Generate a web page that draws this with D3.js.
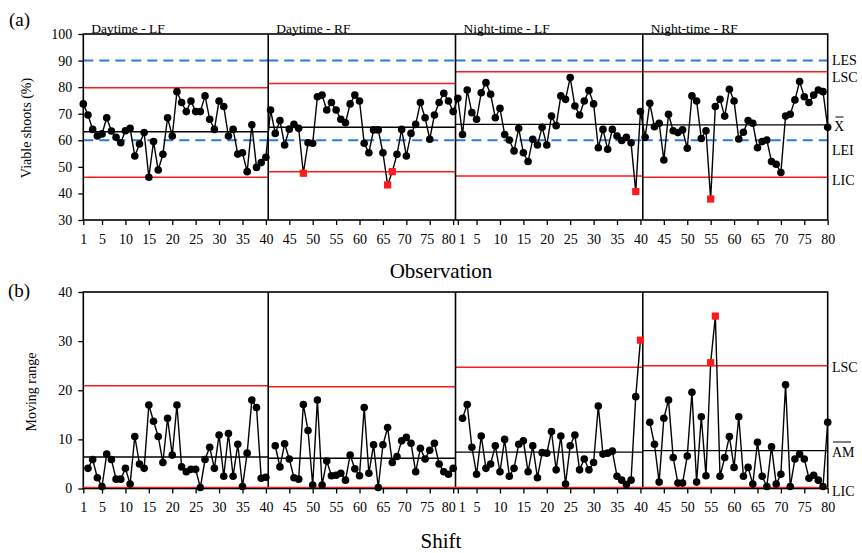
<!DOCTYPE html>
<html>
<head>
<meta charset="utf-8">
<script src="https://cdnjs.cloudflare.com/ajax/libs/d3/7.8.5/d3.min.js"></script>
<style>
  html, body { margin: 0; padding: 0; background: #fff; }
  svg { display: block; font-family: "Liberation Serif", "Times New Roman", serif; }
</style>
</head>
<body>
<svg id="chart" width="862" height="553"></svg>
<script>
// ---------------- DATA ----------------
const segmentNames = ["Daytime - LF", "Daytime - RF", "Night-time - LF", "Night-time - RF"];
const segmentStart = [1, 41, 81, 121];
const segmentEnd   = [40, 80, 120, 160];

// Viable shoots (%) per observation, each segment 40 observations
const viableDayLF = [73.7,69.5,64.1,61.6,62.4,68.5,63.5,61.1,59.1,63.6,64.5,54.1,58.6,62.9,46.1,59.5,48.8,54.7,68.5,61.6,78.3,74.2,70.8,74.8,70.8,70.8,76.7,67.9,64.1,74.8,72.7,61.6,64.1,54.8,55.3,48.2,65.8,49.8,51.6,53.6];
const viableDayRF = [71.4,62.6,67.4,58.2,64.2,66.0,64.5,47.6,59.1,58.9,76.4,77.0,71.4,74.2,71.4,67.9,66.6,73.7,77.0,74.8,58.9,55.3,63.9,63.9,55.3,43.2,48.2,54.7,64.1,54.1,62.6,66.0,74.2,68.5,60.4,69.5,74.2,77.7,74.8,70.8];
const viableNightLF = [75.8,62.2,78.9,70.4,67.9,77.9,81.7,77.3,68.5,72.0,62.2,60.1,56.0,64.5,55.3,52.0,60.4,58.2,64.9,58.2,69.1,65.5,76.7,75.4,83.6,72.9,69.5,74.8,78.7,73.7,57.2,64.1,56.6,64.1,61.6,59.9,61.1,59.1,40.7,70.8];
const viableNightRF = [61.1,73.9,65.1,66.4,52.6,69.8,63.6,62.9,63.9,57.0,76.7,74.8,60.7,63.6,37.9,72.7,75.4,69.1,79.2,74.8,60.5,63.0,67.4,66.4,57.2,59.5,60.1,52.0,51.0,47.9,69.1,69.8,75.2,82.1,76.4,74.2,77.0,78.9,78.3,64.9];

// Moving range per segment (starts at the 2nd observation of each segment)
const mrDayLF = [4.1,5.9,2.2,0.4,7.0,5.9,1.9,1.9,4.1,0.9,10.6,5.0,4.1,17.0,13.7,10.6,5.3,14.3,6.8,17.0,4.4,3.4,3.9,3.9,0.2,5.9,8.4,4.1,10.9,2.5,11.2,2.5,9.0,0.4,7.2,18.0,16.5,2.1,2.3];
const mrDayRF = [8.7,4.4,9.1,6.0,2.2,1.9,17.1,11.8,0.7,18.0,0.7,5.6,2.6,2.7,3.1,1.7,6.8,4.0,2.6,16.5,3.1,8.9,0.2,8.9,12.4,5.3,6.5,9.7,10.4,9.2,3.4,8.2,6.0,7.8,9.2,5.0,3.4,2.9,4.1];
const mrNightLF = [14.3,17.1,8.4,2.9,10.7,4.1,5.0,8.7,3.4,10.0,2.5,4.1,9.0,9.7,3.4,8.7,2.2,7.3,7.2,11.6,3.8,10.7,0.9,8.7,10.9,3.8,6.0,3.8,5.3,16.8,7.0,7.2,7.6,2.5,1.7,0.8,1.7,18.7,30.2];
const mrNightRF = [13.5,9.0,1.3,14.3,18.0,6.3,1.1,1.1,6.6,19.6,1.3,14.6,2.6,25.6,35.1,2.5,6.3,10.6,4.3,14.6,2.5,4.3,0.9,9.4,2.5,0.4,8.5,0.9,2.9,21.1,0.4,6.0,7.0,6.0,2.1,2.7,1.7,0.4,13.5];

// Out-of-control points (global observation index)
const outViable = [48, 66, 67, 119, 135];
const outMR = [120, 135, 136];

// Control limits
const viableLSC = [79.8, 81.4, 85.8, 85.8];
const viableMean = [63.2, 64.9, 66.0, 65.8];
const viableLIC = [46.1, 48.2, 46.6, 46.1];
const specLES = 90;
const specLEI = 60;

const mrLSC = [20.9, 20.7, 24.7, 25.0];
const mrMean = [6.4, 6.15, 7.4, 7.7];
const mrLIC = 0;

// Axis ticks
const xTickIndex = [1,5,10,15,20,25,30,35,40,45,50,55,60,65,70,75,80,81,85,90,95,100,105,110,115,120,125,130,135,140,145,150,155,160];
const xTickLabel = ["1","5","10","15","20","25","30","35","40","45","50","55","60","65","70","75","80","1","5","10","15","20","25","30","35","40","45","50","55","60","65","70","75","80"];
const viableTicks = [30,40,50,60,70,80,90,100];
const mrTicks = [0,10,20,30,40];

// ---------------- BUILD ----------------
const viableAll = [].concat(viableDayLF, viableDayRF, viableNightLF, viableNightRF)
  .map((v, k) => ({ i: k + 1, v }));
const mrSegs = [mrDayLF, mrDayRF, mrNightLF, mrNightRF].map((arr, s) =>
  arr.map((v, k) => ({ i: segmentStart[s] + 1 + k, v })));

const svg = d3.select("#chart");
const red = "#ff1a1a", blue = "#2a7bd6";

const x = d3.scaleLinear().domain([1, 160]).range([83.3, 827.7]);
const yA = d3.scaleLinear().domain([30, 100]).range([220, 34]);
const yB = d3.scaleLinear().domain([0, 40]).range([488.5, 292]);

// small label nudges where neighbouring tick labels crowd (reference layout)
const labelNudge = { 70: -2, 75: -3, 80: -5, 81: 4 };

function drawPanel(y, ticks) {
  const g = svg.append("g");
  const [y0, y1] = y.range();
  const la = g.append("g").attr("transform", `translate(${x(1)},0)`)
    .call(d3.axisLeft(y).tickValues(ticks).tickSize(5).tickSizeOuter(0).tickPadding(6));
  la.select(".domain").remove();
  la.selectAll("line").attr("stroke", "#000").attr("stroke-width", 1.3);
  la.selectAll("text").attr("font-size", 14).attr("font-family", "Liberation Serif").attr("fill", "#000");
  const ba = g.append("g").attr("transform", `translate(0,${y0})`)
    .call(d3.axisBottom(x).tickValues(xTickIndex).tickFormat((d, k) => xTickLabel[k]).tickSize(5).tickSizeOuter(0).tickPadding(9));
  ba.select(".domain").remove();
  ba.selectAll("line").attr("stroke", "#000").attr("stroke-width", 1.3);
  ba.selectAll("text").attr("font-size", 14).attr("font-family", "Liberation Serif").attr("fill", "#000")
    .attr("dx", d => labelNudge[d] || 0);
  return g;
}

function frame(y) {
  const [y0, y1] = y.range();
  svg.append("rect").attr("x", x(1)).attr("y", y1).attr("width", x(160) - x(1)).attr("height", y0 - y1)
    .attr("fill", "none").attr("stroke", "#000").attr("stroke-width", 1.6);
  [1, 2, 3].forEach(s => {
    const xv = x(segmentStart[s] - 0.5);
    svg.append("line").attr("x1", xv).attr("x2", xv).attr("y1", y1).attr("y2", y0)
      .attr("stroke", "#000").attr("stroke-width", 1.6);
  });
}

function segX0(s) { return s === 0 ? x(1) : x(segmentStart[s] - 0.5); }
function segX1(s) { return s === 3 ? x(160) : x(segmentEnd[s] + 0.5); }

function hline(y, val, s, color, w, dash) {
  const l = svg.append("line").attr("x1", segX0(s)).attr("x2", segX1(s))
    .attr("y1", y(val)).attr("y2", y(val)).attr("stroke", color).attr("stroke-width", w);
  if (dash) l.attr("stroke-dasharray", dash);
}

// ----- Panel (a) -----
drawPanel(yA, viableTicks);
for (let s = 0; s < 4; s++) {
  hline(yA, specLES, s, blue, 2, "10,6");
  hline(yA, specLEI, s, blue, 2, "10,6");
  hline(yA, viableLSC[s], s, red, 1.5);
  hline(yA, viableLIC[s], s, red, 1.5);
  hline(yA, viableMean[s], s, "#000", 1.4);
}
frame(yA);

svg.append("path").datum(viableAll)
  .attr("d", d3.line().x(d => x(d.i)).y(d => yA(d.v)))
  .attr("fill", "none").attr("stroke", "#000").attr("stroke-width", 1.4);
svg.append("g").selectAll("circle").data(viableAll.filter(d => !outViable.includes(d.i))).join("circle")
  .attr("cx", d => x(d.i)).attr("cy", d => yA(d.v)).attr("r", 3.8).attr("fill", "#000");
svg.append("g").selectAll("rect").data(viableAll.filter(d => outViable.includes(d.i))).join("rect")
  .attr("x", d => x(d.i) - 3.6).attr("y", d => yA(d.v) - 3.6).attr("width", 7.2).attr("height", 7.2).attr("fill", red);

// ----- Panel (b) -----
drawPanel(yB, mrTicks);
for (let s = 0; s < 4; s++) {
  hline(yB, mrLSC[s], s, red, 1.5);
  hline(yB, mrMean[s], s, "#000", 1.4);
}
frame(yB);
svg.append("line").attr("x1", x(1)).attr("x2", x(160)).attr("y1", yB(mrLIC) - 1.2).attr("y2", yB(mrLIC) - 1.2)
  .attr("stroke", red).attr("stroke-width", 1.2);

mrSegs.forEach(seg => {
  svg.append("path").datum(seg)
    .attr("d", d3.line().x(d => x(d.i)).y(d => yB(d.v)))
    .attr("fill", "none").attr("stroke", "#000").attr("stroke-width", 1.4);
});
const mrAll = [].concat(...mrSegs);
svg.append("g").selectAll("circle").data(mrAll.filter(d => !outMR.includes(d.i))).join("circle")
  .attr("cx", d => x(d.i)).attr("cy", d => yB(d.v)).attr("r", 3.8).attr("fill", "#000");
svg.append("g").selectAll("rect").data(mrAll.filter(d => outMR.includes(d.i))).join("rect")
  .attr("x", d => x(d.i) - 3.6).attr("y", d => yB(d.v) - 3.6).attr("width", 7.2).attr("height", 7.2).attr("fill", red);

// ----- Texts -----
function txt(str, xx, yy, size, anchor, rot) {
  const t = svg.append("text").attr("font-size", size).attr("fill", "#000")
    .attr("text-anchor", anchor || "start").text(str);
  if (rot) t.attr("transform", `translate(${xx},${yy}) rotate(${rot})`);
  else t.attr("x", xx).attr("y", yy);
  return t;
}
txt("(a)", 9, 26, 19);
txt("(b)", 8, 297, 19);
segmentNames.forEach((n, s) => txt(n, segX0(s) + 8, 33, 13.5));

txt("Viable shoots (%)", 31, 128, 14, "middle", -90);
txt("Moving range", 36, 392, 14, "middle", -90);
txt("Observation", 441, 278, 21, "middle");
txt("Shift", 441, 548, 21, "middle");

// right labels (a)
txt("LES", 832, 65, 14);
txt("LSC", 832, 82, 14);
txt("X", 834, 131, 14);
svg.append("line").attr("x1", 835.5).attr("x2", 843.5).attr("y1", 117).attr("y2", 117).attr("stroke", "#000").attr("stroke-width", 1);
txt("LEI", 832, 155, 14);
txt("LIC", 832, 185, 14);
// right labels (b)
txt("LSC", 832, 372, 14);
txt("AM", 832, 457, 14);
svg.append("line").attr("x1", 833).attr("x2", 851).attr("y1", 442).attr("y2", 442).attr("stroke", "#000").attr("stroke-width", 1);
txt("LIC", 832, 496, 14);
</script>
</body>
</html>
